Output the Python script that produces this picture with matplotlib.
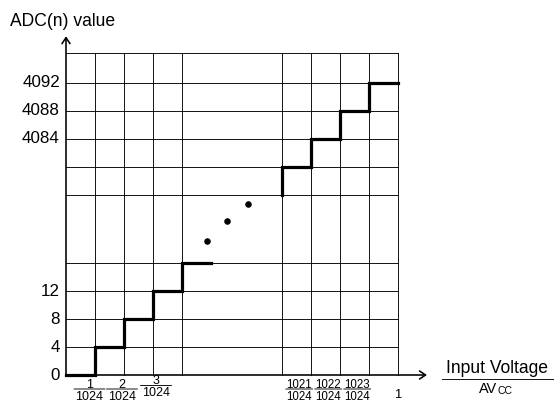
import matplotlib.pyplot as plt
from matplotlib import transforms

plt.rcParams['font.family'] = ['Liberation Sans', 'DejaVu Sans']

# ADC transfer curve, low end (input step n/1024 -> code)
low_steps = [0, 1, 2, 3, 4, 5]
low_codes = [0, 4, 8, 12, 16, 16]
# high end
high_steps = [1020, 1020, 1021, 1022, 1023, 1024]
high_codes = [4076, 4080, 4084, 4088, 4092, 4092]

grid_steps = [1, 2, 3, 4, 1020, 1021, 1022, 1023, 1024]
grid_codes = [4, 8, 12, 16, 4076, 4080, 4084, 4088, 4092]

ytick_codes = [0, 4, 8, 12, 4084, 4088, 4092]
xtick_low = [1, 2, 3]
xtick_high = [1021, 1022, 1023]
full_scale = 1024

# the "..." dots drawn in the broken part of the axis (axis units)
dots_x = [4.87, 5.56, 6.28]
dots_y = [4.78, 5.51, 6.11]


def xpos(s):
    # broken x axis: steps 0..5 then 1020..1024
    return s if s < 512 else s - 1020 + 7.44


def ypos(c):
    # broken y axis: codes 0..16 then 4076..4096
    return c / 4 if c < 2048 else (c - 4076) / 4 + 6.43


W, H = 554, 401
fig = plt.figure(figsize=(W / 72, H / 72), dpi=72)
x_right = xpos(full_scale)
y_top = 11.5
ax = fig.add_axes([66 / W, 26 / H, 331.7 / W, 322 / H])
ax.set_xlim(0, x_right)
ax.set_ylim(0, y_top)
for s in ax.spines.values():
    s.set_visible(False)
ax.set_xticks([])
ax.set_yticks([])

# grid
for s in grid_steps:
    ax.plot([xpos(s)] * 2, [0, y_top], color='black', lw=0.9, clip_on=False)
for c in grid_codes:
    ax.plot([0, x_right], [ypos(c)] * 2, color='black', lw=0.9, clip_on=False)
ax.plot([0, x_right], [y_top, y_top], color='black', lw=0.9, clip_on=False)

# axes with arrows
arrow = dict(arrowstyle='->,head_length=0.6,head_width=0.4', lw=1.6,
             color='black', shrinkA=0, shrinkB=0, mutation_scale=10)
ax.annotate('', xy=(0, 12.1), xytext=(0, 0), arrowprops=arrow,
            annotation_clip=False)
ax.annotate('', xy=(12.45, 0), xytext=(0, 0), arrowprops=arrow,
            annotation_clip=False)

# staircase
ax.plot([xpos(s) for s in low_steps], [ypos(c) for c in low_codes],
        drawstyle='steps-post', color='black', lw=3.2, clip_on=False,
        solid_joinstyle='miter')
ax.plot([xpos(s) for s in high_steps], [ypos(c) for c in high_codes],
        drawstyle='steps-post', color='black', lw=3.2, clip_on=False,
        solid_joinstyle='miter')
ax.scatter(dots_x, dots_y, s=30, color='black', zorder=3)

# y tick labels
for c in ytick_codes:
    ax.annotate(str(c), xy=(0, ypos(c)), xytext=(-6, 0),
                textcoords='offset points', ha='right', va='center',
                fontsize=17, annotation_clip=False)


def shifted(dx, dy):
    return ax.transData + transforms.ScaledTranslation(
        dx / 72, dy / 72, fig.dpi_scale_trans)


# fraction tick labels
def fraction(num, dx, dy, width, fs):
    xc = xpos(num)
    ax.text(xc, 0, str(num), transform=shifted(dx, -dy + 1.5),
            ha='center', va='baseline', fontsize=fs, clip_on=False)
    ax.text(xc, 0, str(full_scale), transform=shifted(dx, -dy - 1.5),
            ha='center', va='top', fontsize=fs, clip_on=False)
    ax.annotate('', xy=(xc, 0), xycoords=shifted(dx + width / 2, -dy),
                xytext=(xc, 0), textcoords=shifted(dx - width / 2, -dy),
                annotation_clip=False,
                arrowprops=dict(arrowstyle='-', lw=0.9, color='black',
                                shrinkA=0, shrinkB=0))


low_dx = [-5.5, -2, 3]
low_dy = [14, 14, 10.5]
for n, dx, dy in zip(xtick_low, low_dx, low_dy):
    fraction(n, dx, dy, 31, 12.5)

for n in xtick_high:
    fraction(n, -11.5, 14, 27, 11.5)

ax.annotate('1', xy=(x_right, 0), xytext=(0, -20),
            textcoords='offset points', ha='center', va='center',
            fontsize=13, annotation_clip=False)

# axis titles
fig.text(10 / W, 1 - 26 / H, 'ADC(n) value', fontsize=17.5,
         ha='left', va='baseline')
fig.text(497 / W, 1 - 373 / H, 'Input Voltage', fontsize=17.5,
         ha='center', va='baseline')
fig.add_artist(plt.Line2D([441.7 / W, 552.7 / W], [1 - 379.3 / H] * 2,
                          color='black', lw=0.9))
fig.text(497 / W, 1 - 393 / H, 'AV', fontsize=14.5, ha='right',
         va='baseline')
fig.text(498 / W, 1 - 393.5 / H, 'CC', fontsize=10.5, ha='left',
         va='baseline')

fig.savefig('out.png', dpi=72)
